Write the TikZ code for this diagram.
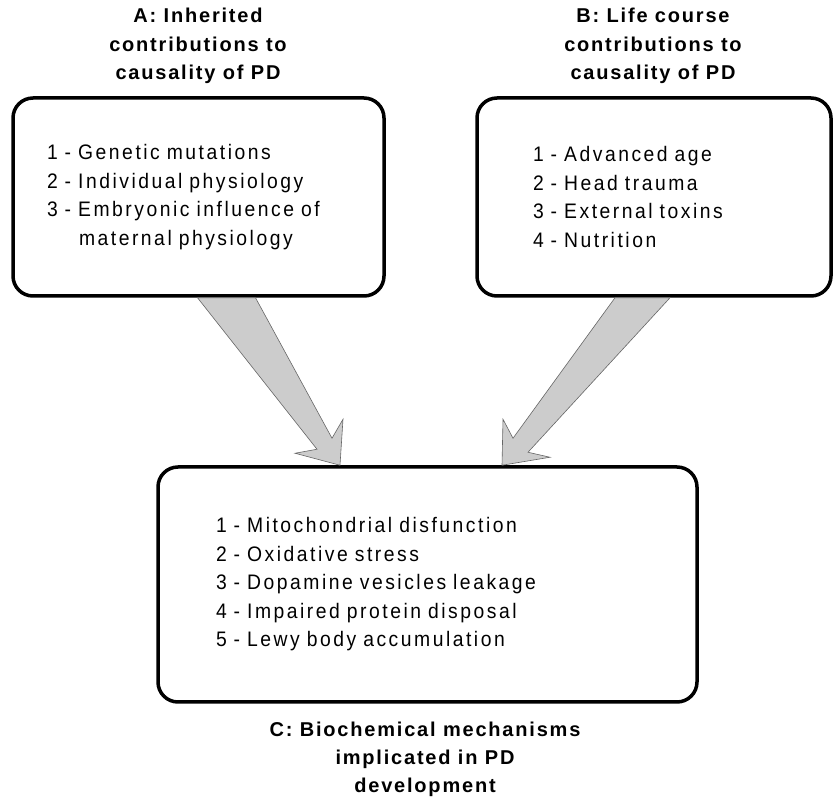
\documentclass[tikz,border=0pt]{standalone}
\usepackage{fontspec}
\setmainfont{Liberation Sans}
\newfontfamily\diagfont[LetterSpace=9]{Liberation Sans}
\newfontfamily\listfont[LetterSpace=12,FakeStretch=0.92]{Liberation Sans}
\usetikzlibrary{calc}

\tikzset{
  listbox/.style={draw, line width=3.5pt, rounded corners=20pt, fill=white, outer sep=0pt,
    align=left, inner ysep=0pt, font=\listfont\fontsize{21}{28.5}\selectfont},
  heading/.style={align=center, inner sep=0pt, font=\diagfont\bfseries\fontsize{20}{28.3}\selectfont},
  blockarrow/.style={fill=black!20, draw=black!60, line width=0.6pt, line join=miter}
}

\begin{document}
\begin{tikzpicture}[x=1pt,y=1pt]
    \useasboundingbox (0,0) rectangle (833,801);

    % the three boxes
    \node[listbox, minimum width=371pt, minimum height=198pt, text width=303pt, inner xsep=34pt] (inherited) at (198.5,604)
        {1 - Genetic mutations\\2 - Individual physiology\\3 - Embryonic influence of\\\hspace*{32pt}maternal physiology};
    \node[listbox, minimum width=354pt, minimum height=198pt, text width=242pt, inner xsep=56pt] (lifecourse) at (654,604)
        {1 - Advanced age\\2 - Head trauma\\3 - External toxins\\4 - Nutrition};
    \node[listbox, minimum width=539pt, minimum height=235pt, text width=423pt, inner xsep=58pt] (mech) at (427.5,216.5)
        {1 - Mitochondrial disfunction\\2 - Oxidative stress\\3 - Dopamine vesicles leakage\\4 - Impaired protein disposal\\5 - Lewy body accumulation};

    % headings
    \node[heading] (titleA) at (198,755) {A: Inherited\\contributions to\\causality of PD};
    \node[heading] (titleB) at (653,755) {B: Life course\\contributions to\\causality of PD};
    \node[heading] (titleC) at (425,41.5) {C: Biochemical mechanisms\\implicated in PD\\development};

    % block arrows
    \coordinate (tailA) at ($(inherited.south west)+(213.5,-1.75)$);
    \coordinate (tipA) at ($(mech.north west)+(182,1.75)$);
    \draw[blockarrow] ($(tailA)+(-29,0)$) -- ($(tipA)+(-23,16)$) -- ($(tipA)+(-45,12)$) -- (tipA)
        -- ($(tipA)+(3,46)$) -- ($(tipA)+(-8,27)$) -- ($(tailA)+(29,0)$) -- cycle;

    \coordinate (tailB) at ($(lifecourse.south west)+(165.5,-1.75)$);
    \coordinate (tipB) at ($(mech.north west)+(344,1.75)$);
    \draw[blockarrow] ($(tailB)+(-27.5,0)$) -- ($(tipB)+(11,27)$) -- ($(tipB)+(1,46)$) -- (tipB)
        -- ($(tipB)+(48,8)$) -- ($(tipB)+(26,13)$) -- ($(tailB)+(27.5,0)$) -- cycle;
\end{tikzpicture}
\end{document}
